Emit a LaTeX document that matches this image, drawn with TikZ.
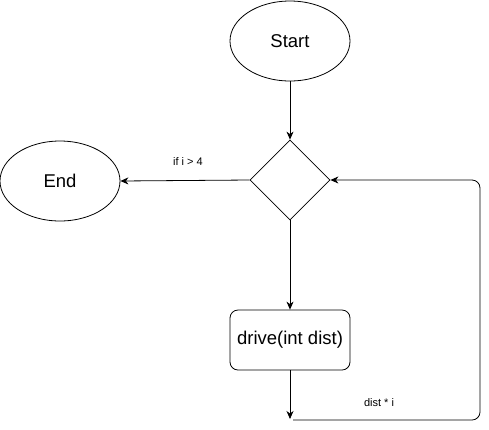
\documentclass[tikz,border=0pt]{standalone}
\usepackage{fontspec}
\setmainfont{Liberation Sans}
\usetikzlibrary{shapes.geometric,arrows.meta}
\begin{document}
\begin{tikzpicture}[x=1pt,y=-1pt,
  base/.style={draw=black,line width=0.8pt,inner sep=0pt,font=\fontsize{18.5}{22}\selectfont},
  oval/.style={base,ellipse,minimum width=120pt,minimum height=80pt},
  dec/.style={base,diamond,minimum width=80pt,minimum height=80pt},
  proc/.style={base,rectangle,rounded corners=8pt,minimum width=120pt,minimum height=60pt},
  arr/.style={line width=0.8pt,-{Stealth[length=8pt,width=7pt,inset=2.5pt]}},
  lbl/.style={font=\fontsize{11}{13}\selectfont}]
\useasboundingbox (0,0) rectangle (489,429);
\node[oval] (start) at (290,41) {Start};
\node[dec] (dia) at (290,180) {};
\node[oval] (end) at (60,181) {End};
\node[proc] (drive) at (290,340) {drive(int dist)};
\coordinate (c1) at (290,419);
\coordinate (c2) at (293,420);
\coordinate (c3) at (480,420);
\coordinate (c4) at (480,180);
\draw[arr] (start) -- (dia.north);
\draw[arr] (dia.west) -- (end.east);
\node[lbl] (l1) at (188,162) {if i > 4};
\draw[arr] (dia.south) -- (drive.north);
\draw[arr] (drive.south) -- (c1);
\draw[arr,rounded corners=8pt] (c2) -- (c3) -- (c4) -- (dia.east);
\node[lbl] (l2) at (379,403) {dist * i};
\end{tikzpicture}
\end{document}
